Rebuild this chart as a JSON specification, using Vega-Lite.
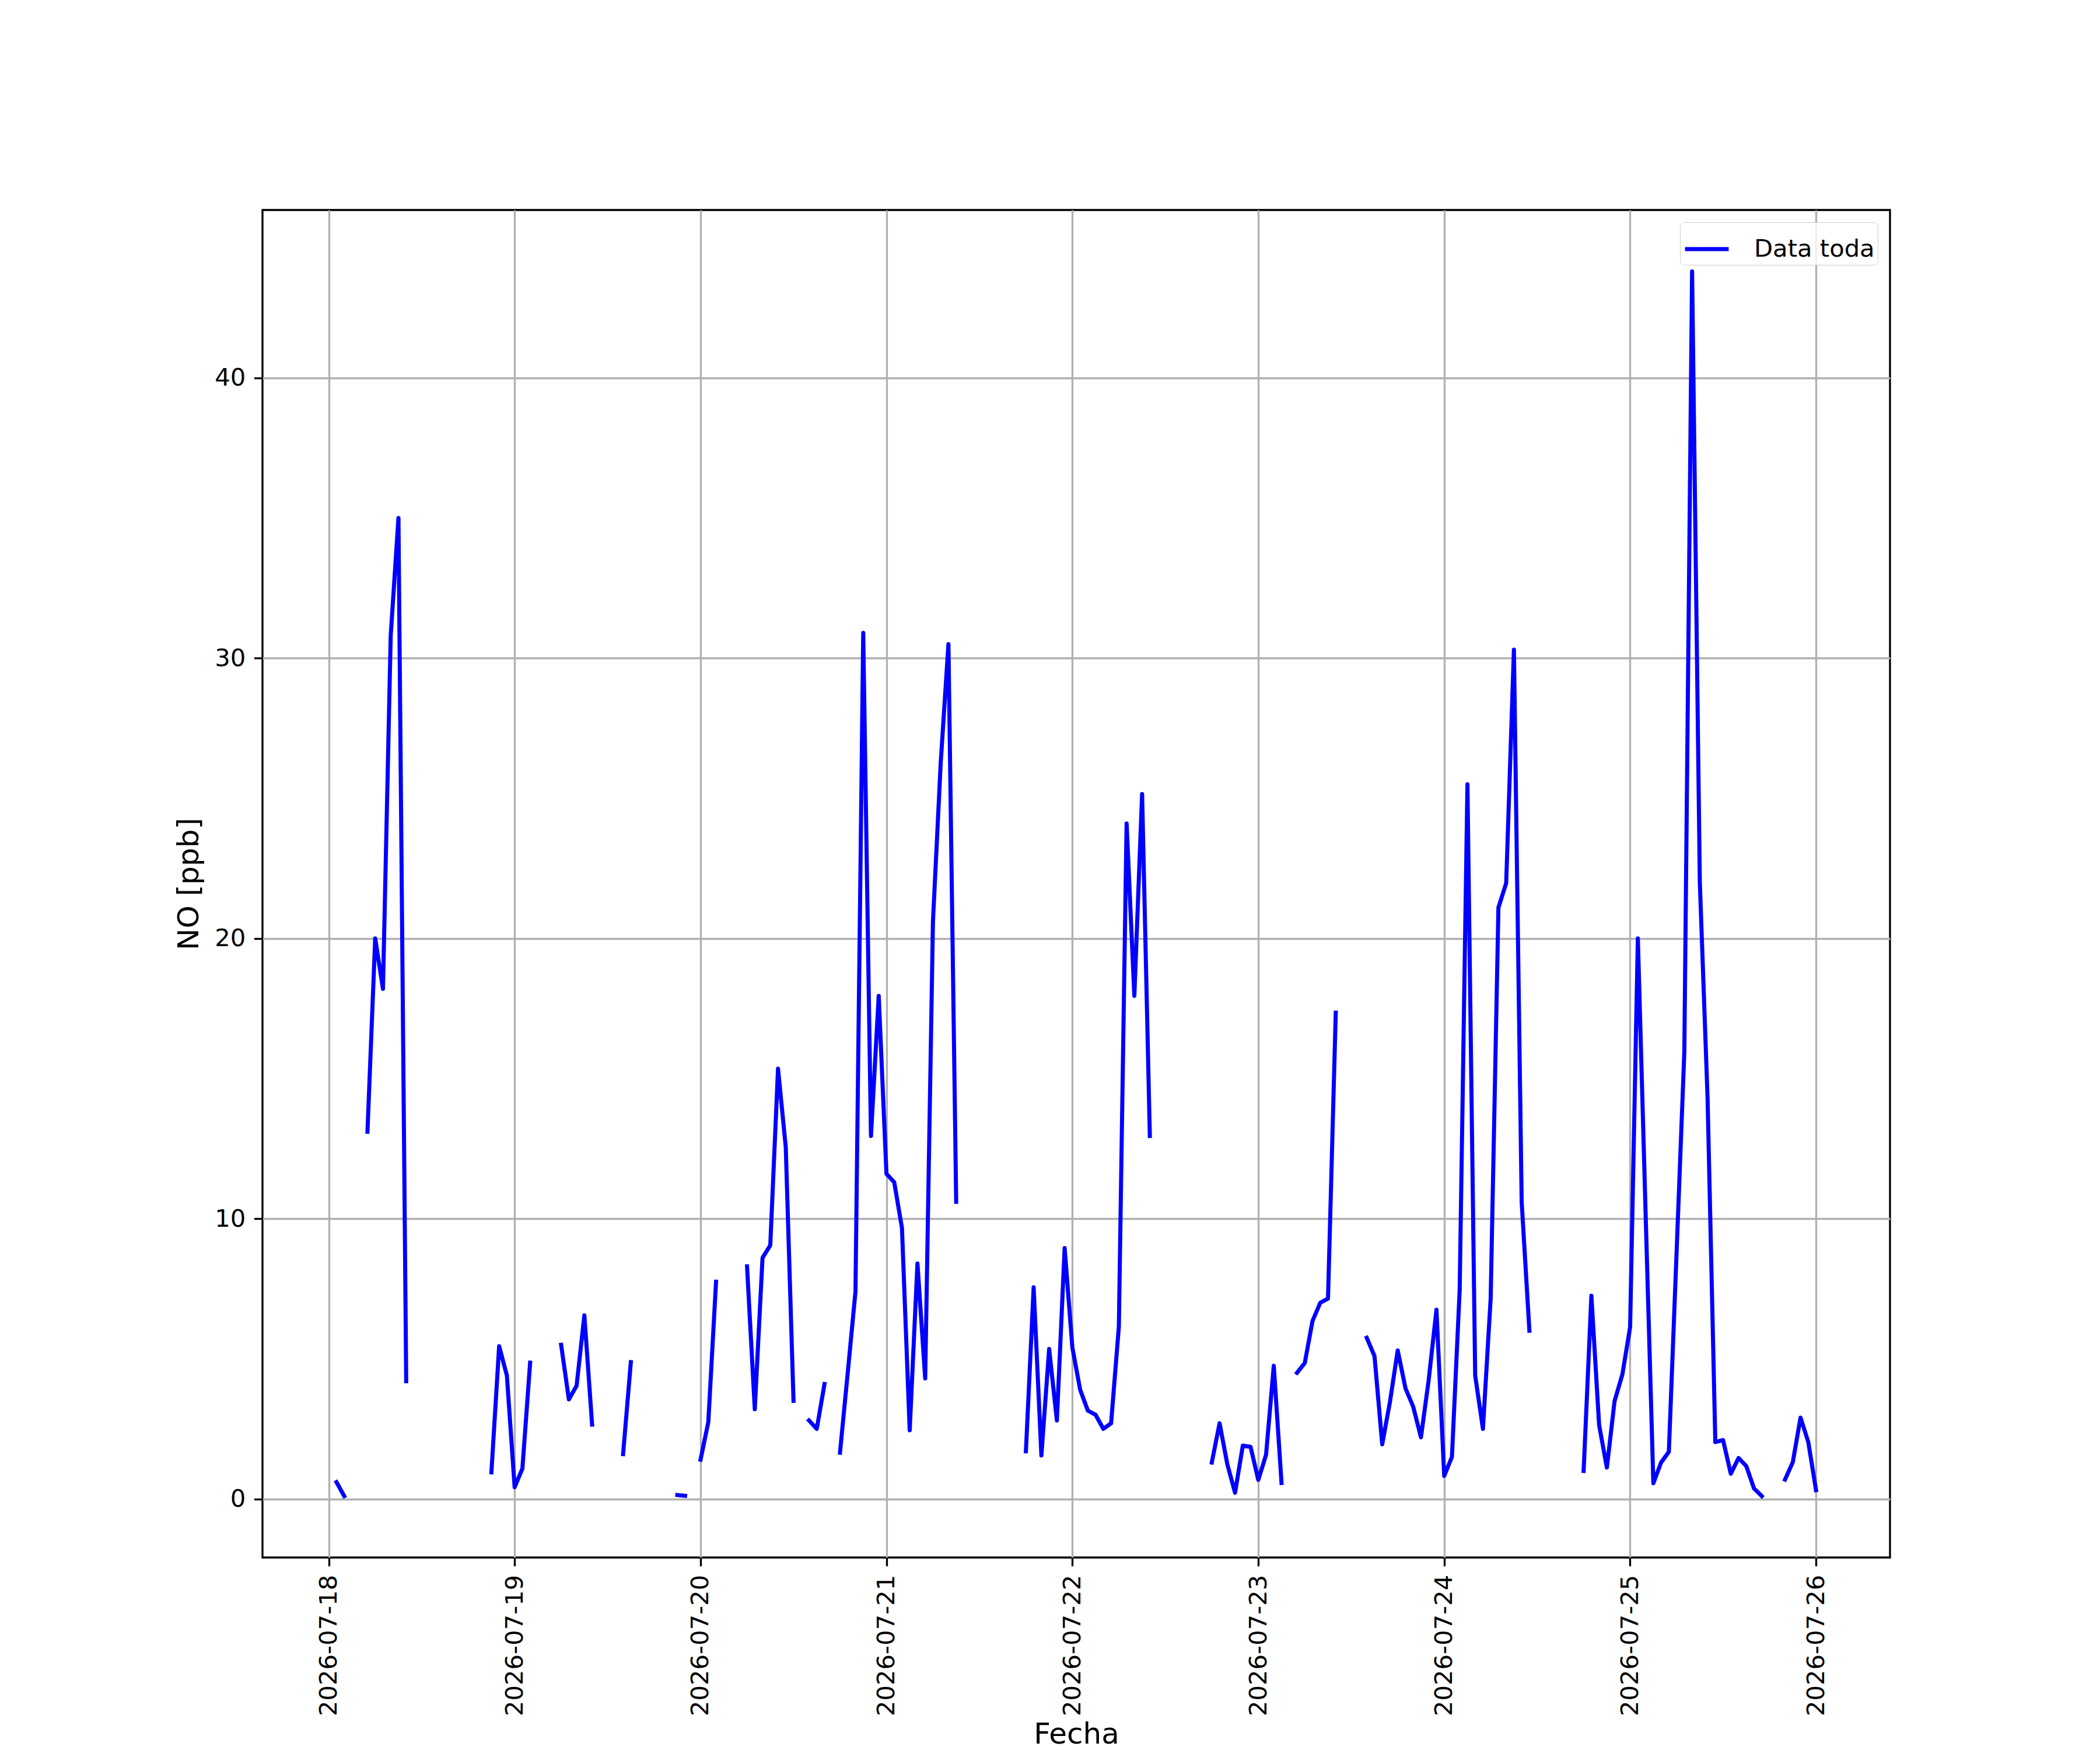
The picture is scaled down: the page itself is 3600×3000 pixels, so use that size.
{
  "$schema": "https://vega.github.io/schema/vega-lite/v6.json",
  "autosize": "none",
  "width": 2790,
  "height": 2310,
  "padding": {"left": 450, "top": 360, "right": 360, "bottom": 330},
  "background": "white",
  "data": {
    "values": [
      {"Fecha": "2026-07-18T01:00", "NO": 0.6},
      {"Fecha": "2026-07-18T02:00", "NO": 0.1},
      {"Fecha": "2026-07-18T03:00", "NO": null},
      {"Fecha": "2026-07-18T05:00", "NO": 13.1},
      {"Fecha": "2026-07-18T06:00", "NO": 20.0},
      {"Fecha": "2026-07-18T07:00", "NO": 18.2},
      {"Fecha": "2026-07-18T08:00", "NO": 30.8},
      {"Fecha": "2026-07-18T09:00", "NO": 35.0},
      {"Fecha": "2026-07-18T10:00", "NO": 4.2},
      {"Fecha": "2026-07-18T11:00", "NO": null},
      {"Fecha": "2026-07-18T21:00", "NO": 0.95},
      {"Fecha": "2026-07-18T22:00", "NO": 5.45},
      {"Fecha": "2026-07-18T23:00", "NO": 4.4},
      {"Fecha": "2026-07-19T00:00", "NO": 0.42},
      {"Fecha": "2026-07-19T01:00", "NO": 1.08},
      {"Fecha": "2026-07-19T02:00", "NO": 4.86},
      {"Fecha": "2026-07-19T03:00", "NO": null},
      {"Fecha": "2026-07-19T06:00", "NO": 5.5},
      {"Fecha": "2026-07-19T07:00", "NO": 3.55},
      {"Fecha": "2026-07-19T08:00", "NO": 4.04},
      {"Fecha": "2026-07-19T09:00", "NO": 6.55},
      {"Fecha": "2026-07-19T10:00", "NO": 2.65},
      {"Fecha": "2026-07-19T11:00", "NO": null},
      {"Fecha": "2026-07-19T14:00", "NO": 1.6},
      {"Fecha": "2026-07-19T15:00", "NO": 4.88},
      {"Fecha": "2026-07-19T16:00", "NO": null},
      {"Fecha": "2026-07-19T21:00", "NO": 0.14},
      {"Fecha": "2026-07-19T22:00", "NO": 0.11},
      {"Fecha": "2026-07-19T23:00", "NO": null},
      {"Fecha": "2026-07-20T00:00", "NO": 1.4},
      {"Fecha": "2026-07-20T01:00", "NO": 2.74},
      {"Fecha": "2026-07-20T02:00", "NO": 7.75},
      {"Fecha": "2026-07-20T03:00", "NO": null},
      {"Fecha": "2026-07-20T06:00", "NO": 8.3},
      {"Fecha": "2026-07-20T07:00", "NO": 3.2},
      {"Fecha": "2026-07-20T08:00", "NO": 8.6},
      {"Fecha": "2026-07-20T09:00", "NO": 9.05},
      {"Fecha": "2026-07-20T10:00", "NO": 15.35},
      {"Fecha": "2026-07-20T11:00", "NO": 12.55},
      {"Fecha": "2026-07-20T12:00", "NO": 3.5},
      {"Fecha": "2026-07-20T13:00", "NO": null},
      {"Fecha": "2026-07-20T14:00", "NO": 2.8},
      {"Fecha": "2026-07-20T15:00", "NO": 2.5},
      {"Fecha": "2026-07-20T16:00", "NO": 4.1},
      {"Fecha": "2026-07-20T17:00", "NO": null},
      {"Fecha": "2026-07-20T18:00", "NO": 1.65},
      {"Fecha": "2026-07-20T19:00", "NO": 4.5},
      {"Fecha": "2026-07-20T20:00", "NO": 7.4},
      {"Fecha": "2026-07-20T21:00", "NO": 30.9},
      {"Fecha": "2026-07-20T22:00", "NO": 12.95},
      {"Fecha": "2026-07-20T23:00", "NO": 17.95},
      {"Fecha": "2026-07-21T00:00", "NO": 11.6},
      {"Fecha": "2026-07-21T01:00", "NO": 11.3},
      {"Fecha": "2026-07-21T02:00", "NO": 9.67},
      {"Fecha": "2026-07-21T03:00", "NO": 2.45},
      {"Fecha": "2026-07-21T04:00", "NO": 8.4},
      {"Fecha": "2026-07-21T05:00", "NO": 4.3},
      {"Fecha": "2026-07-21T06:00", "NO": 20.6},
      {"Fecha": "2026-07-21T07:00", "NO": 26.25},
      {"Fecha": "2026-07-21T08:00", "NO": 30.5},
      {"Fecha": "2026-07-21T09:00", "NO": 10.6},
      {"Fecha": "2026-07-21T10:00", "NO": null},
      {"Fecha": "2026-07-21T18:00", "NO": 1.7},
      {"Fecha": "2026-07-21T19:00", "NO": 7.55},
      {"Fecha": "2026-07-21T20:00", "NO": 1.55},
      {"Fecha": "2026-07-21T21:00", "NO": 5.35},
      {"Fecha": "2026-07-21T22:00", "NO": 2.8},
      {"Fecha": "2026-07-21T23:00", "NO": 8.95},
      {"Fecha": "2026-07-22T00:00", "NO": 5.4},
      {"Fecha": "2026-07-22T01:00", "NO": 3.9},
      {"Fecha": "2026-07-22T02:00", "NO": 3.15},
      {"Fecha": "2026-07-22T03:00", "NO": 3.0},
      {"Fecha": "2026-07-22T04:00", "NO": 2.5},
      {"Fecha": "2026-07-22T05:00", "NO": 2.7},
      {"Fecha": "2026-07-22T06:00", "NO": 6.15},
      {"Fecha": "2026-07-22T07:00", "NO": 24.1},
      {"Fecha": "2026-07-22T08:00", "NO": 17.95},
      {"Fecha": "2026-07-22T09:00", "NO": 25.15},
      {"Fecha": "2026-07-22T10:00", "NO": 12.95},
      {"Fecha": "2026-07-22T11:00", "NO": null},
      {"Fecha": "2026-07-22T18:00", "NO": 1.3},
      {"Fecha": "2026-07-22T19:00", "NO": 2.7},
      {"Fecha": "2026-07-22T20:00", "NO": 1.24},
      {"Fecha": "2026-07-22T21:00", "NO": 0.22},
      {"Fecha": "2026-07-22T22:00", "NO": 1.9},
      {"Fecha": "2026-07-22T23:00", "NO": 1.86},
      {"Fecha": "2026-07-23T00:00", "NO": 0.68},
      {"Fecha": "2026-07-23T01:00", "NO": 1.57},
      {"Fecha": "2026-07-23T02:00", "NO": 4.75},
      {"Fecha": "2026-07-23T03:00", "NO": 0.57},
      {"Fecha": "2026-07-23T04:00", "NO": null},
      {"Fecha": "2026-07-23T05:00", "NO": 4.5},
      {"Fecha": "2026-07-23T06:00", "NO": 4.85},
      {"Fecha": "2026-07-23T07:00", "NO": 6.35},
      {"Fecha": "2026-07-23T08:00", "NO": 7.0},
      {"Fecha": "2026-07-23T09:00", "NO": 7.15},
      {"Fecha": "2026-07-23T10:00", "NO": 17.35},
      {"Fecha": "2026-07-23T11:00", "NO": null},
      {"Fecha": "2026-07-23T14:00", "NO": 5.75},
      {"Fecha": "2026-07-23T15:00", "NO": 5.1},
      {"Fecha": "2026-07-23T16:00", "NO": 1.95},
      {"Fecha": "2026-07-23T17:00", "NO": 3.47},
      {"Fecha": "2026-07-23T18:00", "NO": 5.3},
      {"Fecha": "2026-07-23T19:00", "NO": 3.95},
      {"Fecha": "2026-07-23T20:00", "NO": 3.29},
      {"Fecha": "2026-07-23T21:00", "NO": 2.2},
      {"Fecha": "2026-07-23T22:00", "NO": 4.25},
      {"Fecha": "2026-07-23T23:00", "NO": 6.75},
      {"Fecha": "2026-07-24T00:00", "NO": 0.82},
      {"Fecha": "2026-07-24T01:00", "NO": 1.5},
      {"Fecha": "2026-07-24T02:00", "NO": 7.47},
      {"Fecha": "2026-07-24T03:00", "NO": 25.5},
      {"Fecha": "2026-07-24T04:00", "NO": 4.4},
      {"Fecha": "2026-07-24T05:00", "NO": 2.5},
      {"Fecha": "2026-07-24T06:00", "NO": 7.16},
      {"Fecha": "2026-07-24T07:00", "NO": 21.1},
      {"Fecha": "2026-07-24T08:00", "NO": 21.97},
      {"Fecha": "2026-07-24T09:00", "NO": 30.3},
      {"Fecha": "2026-07-24T10:00", "NO": 10.6},
      {"Fecha": "2026-07-24T11:00", "NO": 6.0},
      {"Fecha": "2026-07-24T12:00", "NO": null},
      {"Fecha": "2026-07-24T18:00", "NO": 1.0},
      {"Fecha": "2026-07-24T19:00", "NO": 7.25},
      {"Fecha": "2026-07-24T20:00", "NO": 2.63},
      {"Fecha": "2026-07-24T21:00", "NO": 1.12},
      {"Fecha": "2026-07-24T22:00", "NO": 3.5},
      {"Fecha": "2026-07-24T23:00", "NO": 4.44},
      {"Fecha": "2026-07-25T00:00", "NO": 6.13},
      {"Fecha": "2026-07-25T01:00", "NO": 20.0},
      {"Fecha": "2026-07-25T02:00", "NO": 10.2},
      {"Fecha": "2026-07-25T03:00", "NO": 0.56},
      {"Fecha": "2026-07-25T04:00", "NO": 1.3},
      {"Fecha": "2026-07-25T05:00", "NO": 1.68},
      {"Fecha": "2026-07-25T06:00", "NO": 8.8},
      {"Fecha": "2026-07-25T07:00", "NO": 15.95},
      {"Fecha": "2026-07-25T08:00", "NO": 43.8},
      {"Fecha": "2026-07-25T09:00", "NO": 22.0},
      {"Fecha": "2026-07-25T10:00", "NO": 14.3},
      {"Fecha": "2026-07-25T11:00", "NO": 2.03},
      {"Fecha": "2026-07-25T12:00", "NO": 2.1},
      {"Fecha": "2026-07-25T13:00", "NO": 0.9},
      {"Fecha": "2026-07-25T14:00", "NO": 1.46},
      {"Fecha": "2026-07-25T15:00", "NO": 1.17},
      {"Fecha": "2026-07-25T16:00", "NO": 0.37},
      {"Fecha": "2026-07-25T17:00", "NO": 0.1},
      {"Fecha": "2026-07-25T18:00", "NO": null},
      {"Fecha": "2026-07-25T20:00", "NO": 0.69},
      {"Fecha": "2026-07-25T21:00", "NO": 1.31},
      {"Fecha": "2026-07-25T22:00", "NO": 2.9},
      {"Fecha": "2026-07-25T23:00", "NO": 2.03},
      {"Fecha": "2026-07-26T00:00", "NO": 0.31}
    ]
  },
  "mark": {
    "type": "line",
    "strokeWidth": 7,
    "strokeCap": "square",
    "strokeJoin": "round",
    "invalid": "break-paths-filter-domains",
    "clip": true
  },
  "encoding": {
    "x": {
      "field": "Fecha",
      "type": "temporal",
      "scale": {
        "domain": [
          {"year": 2026, "month": 7, "date": 17, "hours": 15, "minutes": 27},
          {"year": 2026, "month": 7, "date": 26, "hours": 9, "minutes": 33}
        ],
        "nice": false
      },
      "axis": {
        "title": "Fecha",
        "format": "%Y-%m-%d",
        "values": [
          {"year": 2026, "month": 7, "date": 18},
          {"year": 2026, "month": 7, "date": 19},
          {"year": 2026, "month": 7, "date": 20},
          {"year": 2026, "month": 7, "date": 21},
          {"year": 2026, "month": 7, "date": 22},
          {"year": 2026, "month": 7, "date": 23},
          {"year": 2026, "month": 7, "date": 24},
          {"year": 2026, "month": 7, "date": 25},
          {"year": 2026, "month": 7, "date": 26}
        ],
        "labelAngle": -90,
        "labelLimit": 1000,
        "labelPadding": 14.6,
        "titleFontSize": 50,
        "titlePadding": 78
      }
    },
    "y": {
      "field": "NO",
      "type": "quantitative",
      "scale": {"domain": [-2.09, 45.99], "nice": false, "zero": false},
      "axis": {
        "title": "NO [ppb]",
        "values": [0, 10, 20, 30, 40],
        "format": "d",
        "labelPadding": 14.6,
        "titleFontSize": 50,
        "titlePadding": 18
      }
    },
    "color": {
      "datum": "Data toda",
      "scale": {"range": ["#0000ff"]},
      "legend": {
        "title": null,
        "orient": "top-right",
        "offset": 20.8,
        "padding": 5,
        "strokeColor": "#cccccc",
        "cornerRadius": 8,
        "fillColor": "rgba(255,255,255,0.8)",
        "symbolType": "stroke",
        "symbolSize": 5600,
        "symbolStrokeWidth": 7,
        "labelFontSize": 41.7,
        "labelFont": "DejaVu Sans",
        "labelColor": "black",
        "labelLimit": 1000,
        "labelOffset": 40
      }
    }
  },
  "config": {
    "font": "DejaVu Sans",
    "view": {"stroke": "black", "strokeWidth": 3.33},
    "axis": {
      "domain": false,
      "grid": true,
      "gridColor": "#b0b0b0",
      "gridWidth": 3.33,
      "gridOpacity": 1,
      "tickColor": "black",
      "tickWidth": 3.33,
      "tickSize": 14.6,
      "labelFont": "DejaVu Sans",
      "labelFontSize": 41.7,
      "labelColor": "black",
      "titleFont": "DejaVu Sans",
      "titleFontSize": 41.7,
      "titleFontWeight": "normal",
      "titleColor": "black"
    }
  }
}
